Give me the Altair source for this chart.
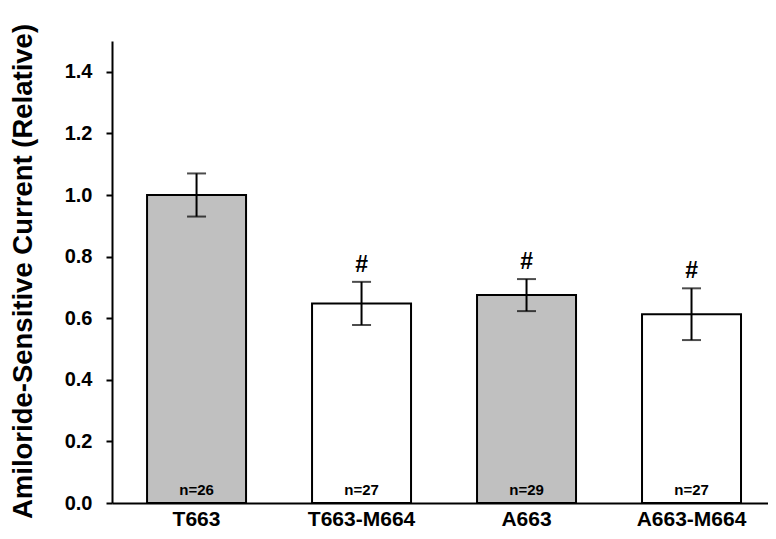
import altair as alt
import pandas as pd

categories = ["T663", "T663-M664", "A663", "A663-M664"]
means = [1.0, 0.648, 0.675, 0.613]
errors = [0.07, 0.07, 0.052, 0.084]
n_labels = ["n=26", "n=27", "n=29", "n=27"]
fills = ["#c0c0c0", "#ffffff", "#c0c0c0", "#ffffff"]
sig = ["", "#", "#", "#"]

df = pd.DataFrame({
    "cat": categories,
    "mean": means,
    "lower": [m - e for m, e in zip(means, errors)],
    "upper": [m + e for m, e in zip(means, errors)],
    "n": n_labels,
    "fill": fills,
    "sig": sig,
    "zero": [0.0] * len(categories),
})

FONT = "Liberation Sans"

x = alt.X("cat:N", sort=categories,
          scale=alt.Scale(paddingInner=0.4, paddingOuter=0.188, align=0.565),
          axis=alt.Axis(title=None, labelAngle=0, ticks=False, domainWidth=2,
                        domainColor="black", labelFontSize=21, labelFont=FONT,
                        labelFontWeight="bold", labelColor="black", labelPadding=5))

yscale = alt.Scale(domain=[0, 1.5], nice=False)

base = alt.Chart(df)

bars = base.mark_bar(stroke="black", strokeWidth=2).encode(
    x=x,
    y=alt.Y("mean:Q", scale=yscale,
            axis=alt.Axis(title="Amiloride-Sensitive Current (Relative)",
                          values=[0, 0.2, 0.4, 0.6, 0.8, 1.0, 1.2, 1.4],
                          format=".1f", grid=False, tickSize=6, tickWidth=2,
                          tickColor="black", domainWidth=2, domainColor="black",
                          labelFontSize=20, labelFont=FONT, labelFontWeight="bold",
                          labelColor="black", labelPadding=14,
                          titleFontSize=27.5, titleFont=FONT, titleFontWeight="bold",
                          titleColor="black", titleX=-75, titleY=230)),
    fill=alt.Fill("fill:N", scale=None),
)

err_rule = base.mark_rule(color="black", strokeWidth=2).encode(
    x=alt.X("cat:N", sort=categories),
    y=alt.Y("lower:Q", scale=yscale),
    y2="upper:Q",
)

err_top = base.mark_tick(color="black", size=19, thickness=2).encode(
    x=alt.X("cat:N", sort=categories),
    y=alt.Y("upper:Q", scale=yscale),
)

err_bot = base.mark_tick(color="black", size=19, thickness=2).encode(
    x=alt.X("cat:N", sort=categories),
    y=alt.Y("lower:Q", scale=yscale),
)

sig_text = base.mark_text(font=FONT, fontWeight="bold", fontSize=23,
                          baseline="alphabetic", dy=-10, color="black").encode(
    x=alt.X("cat:N", sort=categories),
    y=alt.Y("upper:Q", scale=yscale),
    text="sig:N",
)

n_text = base.mark_text(font=FONT, fontWeight="bold", fontSize=15,
                        baseline="alphabetic", dy=-8, color="black").encode(
    x=alt.X("cat:N", sort=categories),
    y=alt.Y("zero:Q", scale=yscale),
    text="n:N",
)

chart = alt.layer(bars, err_rule, err_top, err_bot, sig_text, n_text).properties(
    width=656,
    height=462,
    autosize=alt.AutoSizeParams(type="none"),
    padding={"left": 104, "top": 33, "right": 0, "bottom": 28},
    background="white",
).configure_view(stroke=None)

chart.save("out.html", embed_options={"renderer": "svg", "actions": False})
